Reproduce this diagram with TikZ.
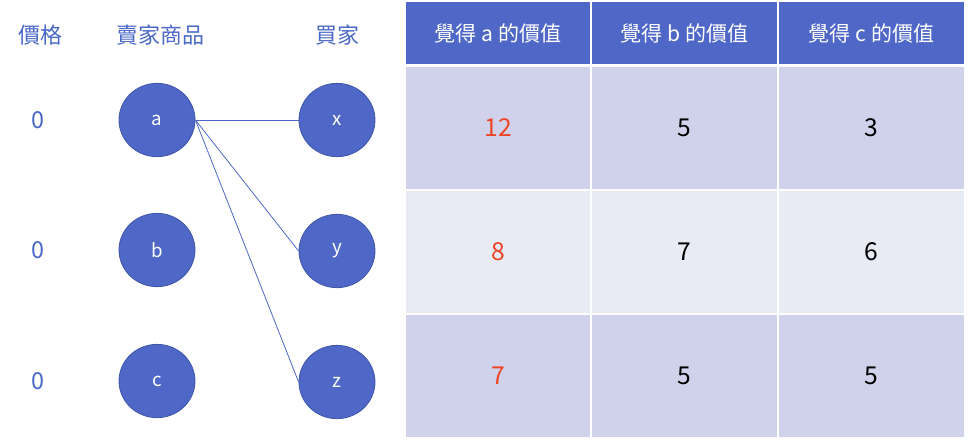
\documentclass[tikz,border=0pt]{standalone}
\usepackage{fontspec}
\setmainfont{Noto Sans CJK TC}
\usetikzlibrary{shapes.geometric}

\definecolor{nodeblue}{HTML}{4F67C7}
\definecolor{nodeedge}{HTML}{3F55A8}
\definecolor{labelblue}{HTML}{4A68C6}
\definecolor{rowdark}{HTML}{D0D2EC}
\definecolor{rowlight}{HTML}{E8EAF4}
\definecolor{valred}{HTML}{EE4426}

\tikzset{
  item/.style={ellipse, fill=nodeblue, draw=nodeedge, line width=0.6pt,
    minimum width=57pt, minimum height=55pt, inner sep=0pt,
    text=white, font=\fontsize{14pt}{16pt}\selectfont},
  title/.style={text=labelblue, font=\fontsize{16.5pt}{18pt}\selectfont},
  price/.style={text=labelblue, font=\fontsize{17.5pt}{19pt}\selectfont},
  link/.style={draw=nodeblue, line width=0.6pt},
  hdr/.style={rectangle, fill=nodeblue, draw=white, line width=1.2pt,
    minimum width=139.5pt, minimum height=48pt, inner sep=0pt,
    text=white, font=\fontsize{15.8pt}{17pt}\selectfont},
  val/.style={rectangle, draw=white, line width=1.2pt,
    minimum width=139.5pt, minimum height=93pt, inner sep=0pt,
    font=\fontsize{18.5pt}{20pt}\selectfont},
}

\begin{document}
\begin{tikzpicture}[x=0.75pt, y=-0.75pt]

    \useasboundingbox (0,0) rectangle (968,440);

    % column titles
    \node[title] (tprice) at (40,35) {價格};
    \node[title] (tgoods) at (160,35) {賣家商品};
    \node[title] (tbuyer) at (337,35) {買家};

    % prices
    \node[price] (p1) at (38,120) {0};
    \node[price] (p2) at (38,250) {0};
    \node[price] (p3) at (38,381) {0};

    % goods and buyers
    \node[item] (a) at (157,120) {a};
    \node[item] (b) at (157,250) {b};
    \node[item] (c) at (157,381) {c};

    \node[item] (x) at (337,120) {x};
    \node[item] (y) at (337,251) {y};
    \node[item] (z) at (337,382) {z};

    \draw[link] (a.east) -- (x.west);
    \draw[link] (a.east) -- (y.west);
    \draw[link] (a.east) -- (z.west);

    % value table
    \node[hdr] (ha) at (498,33) {覺得 a 的價值};
    \node[hdr] (hb) at (684.5,33) {覺得 b 的價值};
    \node[hdr] (hc) at (871.5,33) {覺得 c 的價值};

    \foreach \r/\y/\shade/\va/\vb/\vc in {1/128/rowdark/12/5/3,
                                          2/252/rowlight/8/7/6,
                                          3/376/rowdark/7/5/5} {
      \node[val, fill=\shade, text=valred] (r\r a) at (498,\y) {\va};
      \node[val, fill=\shade] (r\r b) at (684.5,\y) {\vb};
      \node[val, fill=\shade] (r\r c) at (871.5,\y) {\vc};
    }

\end{tikzpicture}
\end{document}
